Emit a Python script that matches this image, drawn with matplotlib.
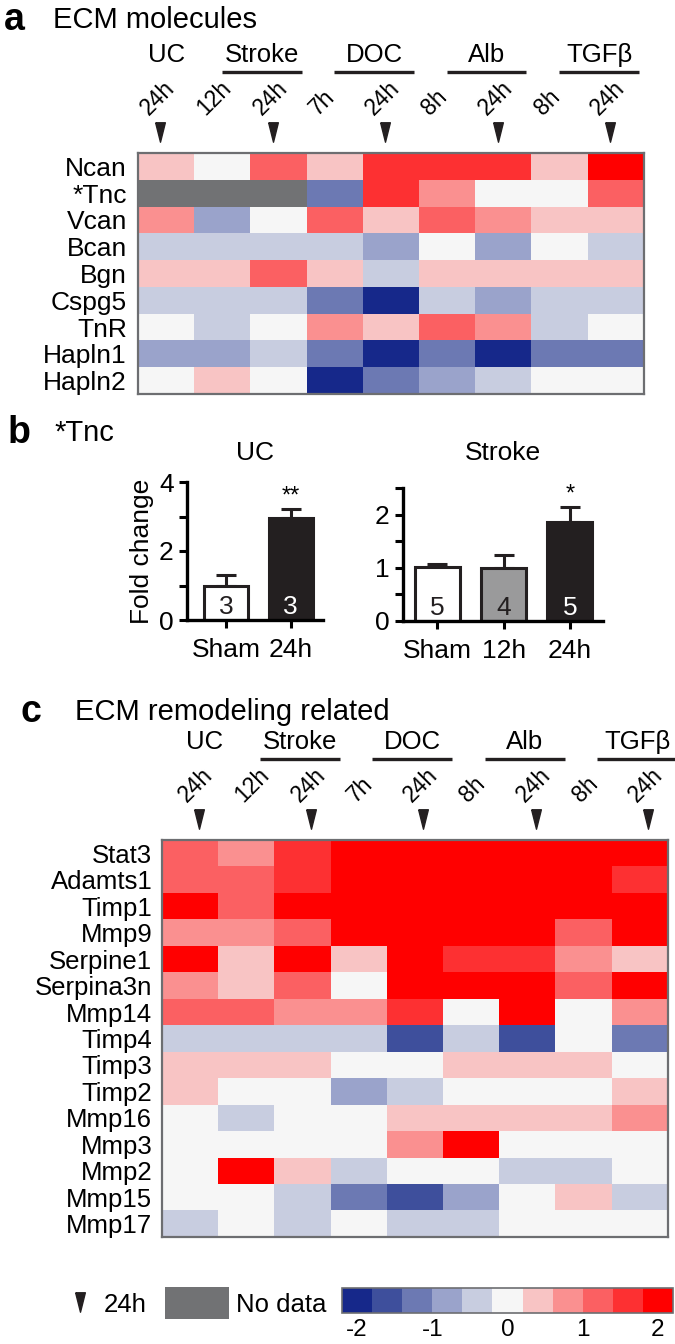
import numpy as np
import matplotlib
matplotlib.use('Agg')
import matplotlib.pyplot as plt
from matplotlib import colors, transforms, cm
from matplotlib.path import Path
from matplotlib.patches import Rectangle

plt.rcParams['font.family'] = ['Liberation Sans', 'DejaVu Sans']
plt.rcParams['axes.unicode_minus'] = False

# colour scale (11 steps, -2 .. 2)
level_values = [-2.0, -1.6, -1.2, -0.8, -0.4, 0.0, 0.4, 0.8, 1.2, 1.6, 2.0]
level_colors = ['#16288a', '#3e4f9c', '#6c79b3', '#9aa3cb', '#c8cde0', '#f6f6f6',
                '#f8c4c4', '#fa9090', '#fb6062', '#fd3032', '#ff0000']
nodata_color = '#717274'

group_names = ['UC', 'Stroke', 'DOC', 'Alb', 'TGFβ']
group_sizes = [1, 2, 2, 2, 2]
time_labels = ['24h', '12h', '24h', '7h', '24h', '8h', '24h', '8h', '24h']

# panel a: ECM molecules
ecm_rows = ['Ncan', '*Tnc', 'Vcan', 'Bcan', 'Bgn', 'Cspg5', 'TnR', 'Hapln1', 'Hapln2']
ecm_values = [
    [0.4, 0.0, 1.2, 0.4, 1.6, 1.6, 1.6, 0.4, 2.0],
    [np.nan, np.nan, np.nan, -1.2, 1.6, 0.8, 0.0, 0.0, 1.2],
    [0.8, -0.8, 0.0, 1.2, 0.4, 1.2, 0.8, 0.4, 0.4],
    [-0.4, -0.4, -0.4, -0.4, -0.8, 0.0, -0.8, 0.0, -0.4],
    [0.4, 0.4, 1.2, 0.4, -0.4, 0.4, 0.4, 0.4, 0.4],
    [-0.4, -0.4, -0.4, -1.2, -2.0, -0.4, -0.8, -0.4, -0.4],
    [0.0, -0.4, 0.0, 0.8, 0.4, 1.2, 0.8, -0.4, 0.0],
    [-0.8, -0.8, -0.4, -1.2, -2.0, -1.2, -2.0, -1.2, -1.2],
    [0.0, 0.4, 0.0, -2.0, -1.2, -0.8, -0.4, 0.0, 0.0],
]

# panel b: Tnc qPCR
uc_groups = ['Sham', '24h']
uc_mean = [1.0, 2.97]
uc_err = [0.3, 0.25]
uc_n = [3, 3]
stroke_groups = ['Sham', '12h', '24h']
stroke_mean = [1.01, 1.0, 1.86]
stroke_err = [0.06, 0.24, 0.29]
stroke_n = [5, 4, 5]

# panel c: ECM remodeling related
rem_rows = ['Stat3', 'Adamts1', 'Timp1', 'Mmp9', 'Serpine1', 'Serpina3n', 'Mmp14',
            'Timp4', 'Timp3', 'Timp2', 'Mmp16', 'Mmp3', 'Mmp2', 'Mmp15', 'Mmp17']
rem_values = [
    [1.2, 0.8, 1.6, 2.0, 2.0, 2.0, 2.0, 2.0, 2.0],
    [1.2, 1.2, 1.6, 2.0, 2.0, 2.0, 2.0, 2.0, 1.6],
    [2.0, 1.2, 2.0, 2.0, 2.0, 2.0, 2.0, 2.0, 2.0],
    [0.8, 0.8, 1.2, 2.0, 2.0, 2.0, 2.0, 1.2, 2.0],
    [2.0, 0.4, 2.0, 0.4, 2.0, 1.6, 1.6, 0.8, 0.4],
    [0.8, 0.4, 1.2, 0.0, 2.0, 2.0, 2.0, 1.2, 2.0],
    [1.2, 1.2, 0.8, 0.8, 1.6, 0.0, 2.0, 0.0, 0.8],
    [-0.4, -0.4, -0.4, -0.4, -1.6, -0.4, -1.6, 0.0, -1.2],
    [0.4, 0.4, 0.4, 0.0, 0.0, 0.4, 0.4, 0.4, 0.0],
    [0.4, 0.0, 0.0, -0.8, -0.4, 0.0, 0.0, 0.0, 0.4],
    [0.0, -0.4, 0.0, 0.0, 0.4, 0.4, 0.4, 0.4, 0.8],
    [0.0, 0.0, 0.0, 0.0, 0.8, 2.0, 0.0, 0.0, 0.0],
    [0.0, 2.0, 0.4, -0.4, 0.0, 0.0, -0.4, -0.4, 0.0],
    [0.0, 0.0, -0.4, -1.2, -1.6, -0.8, 0.0, 0.4, -0.4],
    [-0.4, 0.0, -0.4, 0.0, -0.4, -0.4, 0.0, 0.0, 0.0],
]

W, H = 675, 1344
INK = '#231f20'


def fx(px):
    return px / W


def fy(py):
    return 1 - py / H


bounds = [v - 0.2 for v in level_values] + [level_values[-1] + 0.2]
cmap = colors.ListedColormap(level_colors)
cmap.set_bad(nodata_color)
norm = colors.BoundaryNorm(bounds, cmap.N)

tri = Path([(-0.5, 1), (0.5, 1), (0, -1), (-0.5, 1)])

fig = plt.figure(figsize=(W / 100, H / 100), dpi=100)


def heatmap(ax, values, rows, fontsize, pad):
    data = np.ma.masked_invalid(np.array(values, dtype=float))
    ax.imshow(data, cmap=cmap, norm=norm, aspect='auto', interpolation='nearest')
    ax.set_yticks(range(len(rows)), rows, fontsize=fontsize)
    ax.set_xticks([])
    ax.tick_params(axis='y', length=0, pad=pad)
    for s in ax.spines.values():
        s.set_color('#6d6e71')
        s.set_linewidth(1.6)


def header(ax, top_px, shift):
    tr = transforms.blended_transform_factory(ax.transData, fig.transFigure)
    col = 0
    for name, span in zip(group_names, group_sizes):
        mid = col + (span - 1) / 2 + shift
        if span > 1:
            mid += 0.2
            ax.plot([mid - 0.71, mid + 0.71], [fy(top_px - 81)] * 2, transform=tr,
                    color=INK, lw=2.4, clip_on=False, solid_capstyle='butt')
        ax.text(mid, fy(top_px - 98), name, transform=tr, ha='center', va='center',
                fontsize=18.5)
        col += span
    for j, t in enumerate(time_labels):
        ax.text(j - 0.3 + shift, fy(top_px - 37), t, transform=tr, rotation=45,
                rotation_mode='anchor', ha='left', va='baseline', fontsize=16.5)
        if t == '24h':
            ax.plot(j - 0.1 + shift, fy(top_px - 21), marker=tri, ms=14, color=INK,
                    linestyle='none', transform=tr, clip_on=False)
    ax.set_xlim(-0.5, len(time_labels) - 0.5)


def bars(ax, names, means, errs, ns, fills, ylim, major, minor, star, title, tpad, xlim):
    x = np.arange(len(names))
    ax.bar(x, means, width=0.68, color=fills, edgecolor=INK, linewidth=2.2, zorder=2)
    ax.errorbar(x, means, yerr=[np.zeros(len(x)), errs], fmt='none', ecolor=INK,
                elinewidth=2.2, capsize=7, capthick=2.2, zorder=1)
    for xi, n, f in zip(x, ns, fills):
        ax.annotate(str(n), (xi, 0), xytext=(0, 9.5), textcoords='offset points',
                    ha='center', va='center', fontsize=19,
                    color='white' if f == INK else INK)
    i = len(x) - 1
    ax.annotate(star, (x[i], means[i] + errs[i]), xytext=(0, 1), textcoords='offset points',
                ha='center', va='bottom', fontsize=17)
    ax.set_xlim(*xlim)
    ax.set_ylim(*ylim)
    ax.set_yticks(major)
    ax.set_yticks(minor, minor=True)
    ax.set_xticks(x, names)
    ax.tick_params(which='both', direction='out', length=6, width=2.2, labelsize=19)
    ax.tick_params(axis='x', pad=7)
    for s in ['top', 'right']:
        ax.spines[s].set_visible(False)
    for s in ['left', 'bottom']:
        ax.spines[s].set_linewidth(2.4)
    ax.set_title(title, fontsize=19, pad=tpad)


# ---- panel a
ax_a = fig.add_axes([fx(138), fy(394), fx(506), 241 / H])
heatmap(ax_a, ecm_values, ecm_rows, 19, 8)
header(ax_a, 153, 0.0)
fig.text(fx(4), fy(20), 'a', fontsize=27, fontweight='bold', va='center')
fig.text(fx(53), fy(20), 'ECM molecules', fontsize=21, va='center')

# ---- panel b
fig.text(fx(8), fy(433), 'b', fontsize=27, fontweight='bold', va='center')
fig.text(fx(54), fy(433), '*Tnc', fontsize=21, va='center')

ax_uc = fig.add_axes([fx(187), fy(620), fx(136), 138 / H])
bars(ax_uc, uc_groups, uc_mean, uc_err, uc_n, ['white', INK],
     (0, 4), [0, 2, 4], [1, 3], '**', 'UC', 16, (-0.6, 1.5))
ax_uc.set_ylabel('Fold change', fontsize=19, labelpad=4)

ax_st = fig.add_axes([fx(403), fy(621), fx(200), 133 / H])
bars(ax_st, stroke_groups, stroke_mean, stroke_err, stroke_n, ['white', '#9a9a9b', INK],
     (0, 2.5), [0, 1, 2], [0.5, 1.5, 2.5], '*', 'Stroke', 20, (-0.52, 2.5))

# ---- panel c
ax_c = fig.add_axes([fx(162), fy(1237), fx(506), 397 / H])
heatmap(ax_c, rem_values, rem_rows, 18.5, 7)
header(ax_c, 840, 0.25)
fig.text(fx(21), fy(712), 'c', fontsize=27, fontweight='bold', va='center')
fig.text(fx(75), fy(712), 'ECM remodeling related', fontsize=21, va='center')

# ---- legend
fig.add_artist(plt.Line2D([fx(80)], [fy(1302)], marker=tri, ms=14, color=INK,
                          linestyle='none', transform=fig.transFigure))
fig.text(fx(104), fy(1305), '24h', fontsize=18.5, va='center')
fig.add_artist(Rectangle((fx(165), fy(1319)), fx(64), 32 / H, transform=fig.transFigure,
                         facecolor=nodata_color, edgecolor='none'))
fig.text(fx(236), fy(1305), 'No data', fontsize=18.5, va='center')

cax = fig.add_axes([fx(342), fy(1313), fx(331), 25 / H])
cb = fig.colorbar(cm.ScalarMappable(norm=norm, cmap=cmap), cax=cax, orientation='horizontal',
                  ticks=[-2, -1, 0, 1, 2])
cb.outline.set_edgecolor('#6d6e71')
cb.outline.set_linewidth(1.2)
cax.minorticks_off()
cax.tick_params(which='both', length=0, labelsize=17.5, pad=4)

fig.savefig('out.png', dpi=100)
